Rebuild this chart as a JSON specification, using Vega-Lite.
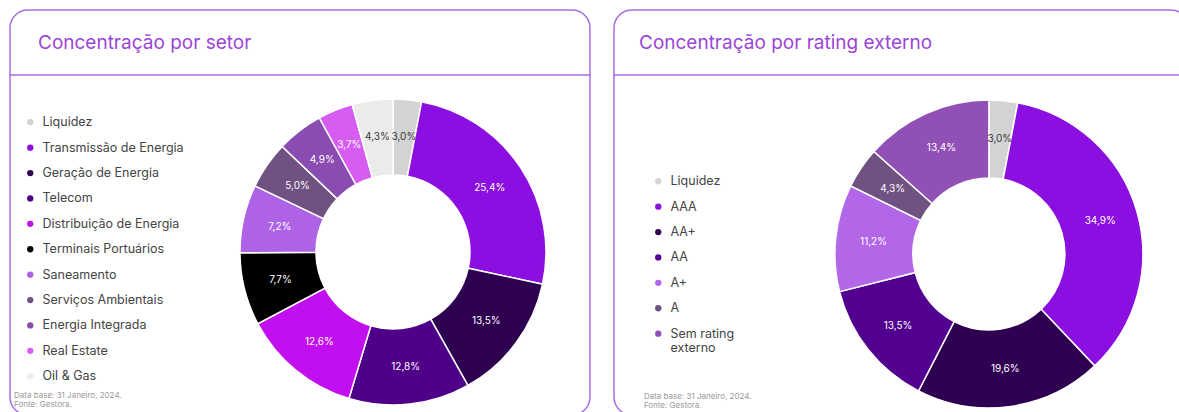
{
  "$schema": "https://vega.github.io/schema/vega-lite/v6.json",
  "background": "white",
  "padding": {"left": 8, "top": 9, "right": 0, "bottom": 0},
  "spacing": 20,
  "config": {
    "font": "Inter",
    "view": {"stroke": "#a66ee0", "strokeWidth": 1.5, "cornerRadius": 18},
    "title": {"fontSize": 19, "fontWeight": 400, "color": "#9b45d6", "anchor": "start", "frame": "group"},
    "legend": {"orient": "none", "symbolType": "circle", "symbolSize": 40, "symbolStrokeWidth": 0, "labelFontSize": 12.5, "labelColor": "#444444", "rowPadding": 12.4, "labelOffset": 6, "padding": 0, "title": null}
  },
  "resolve": {"scale": {"color": "independent", "theta": "independent", "x": "independent", "y": "independent"}, "legend": {"color": "independent"}},
  "hconcat": [
    {
      "width": 580,
      "height": 405,
      "title": {"text": "Concentração por setor", "offset": -43, "dx": 28},
      "layer": [
        {
          "data": {"values": [{"d": 1}]},
          "mark": {"type": "rule", "color": "#a66ee0", "strokeWidth": 1.5},
          "encoding": {"y": {"datum": 0.1605, "type": "quantitative", "scale": {"domain": [0, 1], "reverse": true}, "axis": null}}
        },
        {
          "data": {"values": [
            {"i": 1, "k": "Liquidez", "v": 3.0, "lbl": "3,0%"},
            {"i": 2, "k": "Transmissão de Energia", "v": 25.4, "lbl": "25,4%"},
            {"i": 3, "k": "Geração de Energia", "v": 13.5, "lbl": "13,5%"},
            {"i": 4, "k": "Telecom", "v": 12.8, "lbl": "12,8%"},
            {"i": 5, "k": "Distribuição de Energia", "v": 12.6, "lbl": "12,6%"},
            {"i": 6, "k": "Terminais Portuários", "v": 7.7, "lbl": "7,7%"},
            {"i": 7, "k": "Saneamento", "v": 7.2, "lbl": "7,2%"},
            {"i": 8, "k": "Serviços Ambientais", "v": 5.0, "lbl": "5,0%"},
            {"i": 9, "k": "Energia Integrada", "v": 4.9, "lbl": "4,9%"},
            {"i": 10, "k": "Real Estate", "v": 3.7, "lbl": "3,7%"},
            {"i": 11, "k": "Oil & Gas", "v": 4.3, "lbl": "4,3%"}
          ]},
          "layer": [
            {
              "mark": {"type": "arc", "outerRadius": 153, "innerRadius": 77, "stroke": "white", "strokeWidth": 1.5},
              "encoding": {
                "theta": {"field": "v", "type": "quantitative", "stack": true},
                "order": {"field": "i", "type": "quantitative"},
                "x": {"datum": 0.6603, "type": "quantitative", "scale": {"domain": [0, 1]}, "axis": null},
                "y": {"datum": 0.5975, "type": "quantitative", "scale": {"domain": [0, 1], "reverse": true}, "axis": null},
                "color": {
                  "field": "k", "type": "nominal",
                  "scale": {
                    "domain": ["Liquidez", "Transmissão de Energia", "Geração de Energia", "Telecom", "Distribuição de Energia", "Terminais Portuários", "Saneamento", "Serviços Ambientais", "Energia Integrada", "Real Estate", "Oil & Gas"],
                    "range": ["#d3d3d3", "#8b0fe0", "#2e0050", "#4e0088", "#c20fef", "#000000", "#ae62e6", "#6f5182", "#8a4cb0", "#d75cf2", "#ebebeb"]
                  },
                  "legend": {"legendX": 14, "legendY": 106}
                }
              }
            },
            {
              "mark": {"type": "text", "radius": 116, "fontSize": 10},
              "encoding": {
                "theta": {"field": "v", "type": "quantitative", "stack": true},
                "order": {"field": "i", "type": "quantitative"},
                "x": {"datum": 0.6603, "type": "quantitative", "scale": {"domain": [0, 1]}, "axis": null},
                "y": {"datum": 0.5975, "type": "quantitative", "scale": {"domain": [0, 1], "reverse": true}, "axis": null},
                "text": {"field": "lbl", "type": "nominal"},
                "color": {"condition": {"test": "datum.k == 'Liquidez' || datum.k == 'Oil & Gas'", "value": "#3a3a3a"}, "value": "#ffffff"}
              }
            }
          ]
        },
        {
          "data": {"values": [{"t": "Data base: 31 Janeiro, 2024.\nFonte: Gestora."}]},
          "mark": {"type": "text", "align": "left", "baseline": "top", "fontSize": 8, "color": "#9a9a9a", "lineBreak": "\n", "lineHeight": 9},
          "encoding": {
            "text": {"field": "t", "type": "nominal"},
            "x": {"datum": 0.007, "type": "quantitative", "scale": {"domain": [0, 1]}, "axis": null},
            "y": {"datum": 0.943, "type": "quantitative", "scale": {"domain": [0, 1], "reverse": true}, "axis": null}
          }
        }
      ]
    },
    {
      "width": 575,
      "height": 405,
      "title": {"text": "Concentração por rating externo", "offset": -43, "dx": 25},
      "layer": [
        {
          "data": {"values": [{"d": 1}]},
          "mark": {"type": "rule", "color": "#a66ee0", "strokeWidth": 1.5},
          "encoding": {"y": {"datum": 0.1605, "type": "quantitative", "scale": {"domain": [0, 1], "reverse": true}, "axis": null}}
        },
        {
          "data": {"values": [
            {"i": 1, "k": "Liquidez", "v": 3.0, "lbl": "3,0%"},
            {"i": 2, "k": "AAA", "v": 34.9, "lbl": "34,9%"},
            {"i": 3, "k": "AA+", "v": 19.6, "lbl": "19,6%"},
            {"i": 4, "k": "AA", "v": 13.5, "lbl": "13,5%"},
            {"i": 5, "k": "A+", "v": 11.2, "lbl": "11,2%"},
            {"i": 6, "k": "A", "v": 4.3, "lbl": "4,3%"},
            {"i": 7, "k": "Sem rating externo", "v": 13.4, "lbl": "13,4%"}
          ]},
          "layer": [
            {
              "mark": {"type": "arc", "outerRadius": 154, "innerRadius": 76, "stroke": "white", "strokeWidth": 1.5},
              "encoding": {
                "theta": {"field": "v", "type": "quantitative", "stack": true},
                "order": {"field": "i", "type": "quantitative"},
                "x": {"datum": 0.652, "type": "quantitative", "scale": {"domain": [0, 1]}, "axis": null},
                "y": {"datum": 0.6025, "type": "quantitative", "scale": {"domain": [0, 1], "reverse": true}, "axis": null},
                "color": {
                  "field": "k", "type": "nominal",
                  "scale": {
                    "domain": ["Liquidez", "AAA", "AA+", "AA", "A+", "A", "Sem rating externo"],
                    "range": ["#d3d3d3", "#8b0fe0", "#2f0052", "#52008f", "#b266e8", "#6f5182", "#9150b5"]
                  },
                  "legend": {"legendX": 38, "legendY": 165, "labelExpr": "datum.label == 'Sem rating externo' ? ['Sem rating', 'externo'] : datum.label"}
                }
              }
            },
            {
              "mark": {"type": "text", "radius": 116, "fontSize": 10},
              "encoding": {
                "theta": {"field": "v", "type": "quantitative", "stack": true},
                "order": {"field": "i", "type": "quantitative"},
                "x": {"datum": 0.652, "type": "quantitative", "scale": {"domain": [0, 1]}, "axis": null},
                "y": {"datum": 0.6025, "type": "quantitative", "scale": {"domain": [0, 1], "reverse": true}, "axis": null},
                "text": {"field": "lbl", "type": "nominal"},
                "color": {"condition": {"test": "datum.k == 'Liquidez'", "value": "#3a3a3a"}, "value": "#ffffff"}
              }
            }
          ]
        },
        {
          "data": {"values": [{"t": "Data base: 31 Janeiro, 2024.\nFonte: Gestora."}]},
          "mark": {"type": "text", "align": "left", "baseline": "top", "fontSize": 8, "color": "#9a9a9a", "lineBreak": "\n", "lineHeight": 9},
          "encoding": {
            "text": {"field": "t", "type": "nominal"},
            "x": {"datum": 0.052, "type": "quantitative", "scale": {"domain": [0, 1]}, "axis": null},
            "y": {"datum": 0.946, "type": "quantitative", "scale": {"domain": [0, 1], "reverse": true}, "axis": null}
          }
        }
      ]
    }
  ]
}
